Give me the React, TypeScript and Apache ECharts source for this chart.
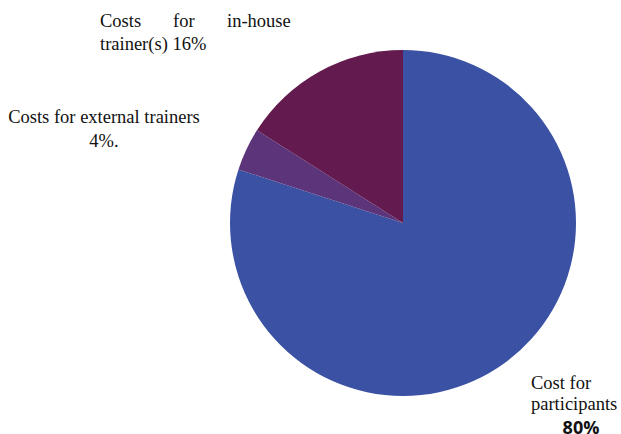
import React, { useEffect, useRef } from "react";
import * as echarts from "echarts";

const categories = ["Cost for participants", "Costs for external trainers", "Costs for in-house trainer(s)"];
const values = [80, 4, 16];
const colors = ["#3A51A4", "#5C3479", "#621A4F"];

export default function App() {
  const ref = useRef<HTMLDivElement>(null);
  useEffect(() => {
    document.body.style.margin = "0";
    const chart = echarts.init(ref.current!, null, { renderer: "svg" });
    const serif = "Liberation Serif";
    const base = { fontFamily: serif, fontSize: 18.5, fill: "#111" };
    chart.setOption({
      animation: false,
      backgroundColor: "#ffffff",
      series: [
        {
          type: "pie",
          center: [403, 223],
          radius: [0, 173],
          startAngle: 90,
          clockwise: true,
          label: { show: false },
          labelLine: { show: false },
          silent: true,
          data: categories.map((c, i) => ({ name: c, value: values[i], itemStyle: { color: colors[i] } })),
        },
      ],
      graphic: [
        {
          type: "text",
          x: 100,
          y: 9,
          style: {
            text: "{a|Costs}{b|for}{c|in-house}\n{d|trainer(s) " + values[2] + "%}",
            ...base,
            lineHeight: 23,
            rich: {
              a: { ...base, lineHeight: 23, width: 73, align: "left" },
              b: { ...base, lineHeight: 23, width: 54, align: "left" },
              c: { ...base, lineHeight: 23, align: "left" },
              d: { ...base, lineHeight: 23 },
            },
          },
        },
        {
          type: "text",
          x: 104,
          y: 105,
          style: {
            text: "Costs for external trainers\n" + values[1] + "%.",
            ...base,
            align: "center",
            verticalAlign: "top",
            lineHeight: 24,
          },
        },
        {
          type: "text",
          x: 531,
          y: 372,
          style: {
            text: "Cost for\nparticipants",
            ...base,
            lineHeight: 21,
          },
        },
        {
          type: "text",
          x: 581,
          y: 427,
          style: {
            text: values[0] + "%",
            fontFamily: "Open Sans",
            fontWeight: "bold",
            fontSize: 18,
            fill: "#111",
            align: "center",
            verticalAlign: "middle",
          },
        },
      ],
    });
    return () => chart.dispose();
  }, []);
  return <div ref={ref} style={{ width: 621, height: 434 }} />;
}
